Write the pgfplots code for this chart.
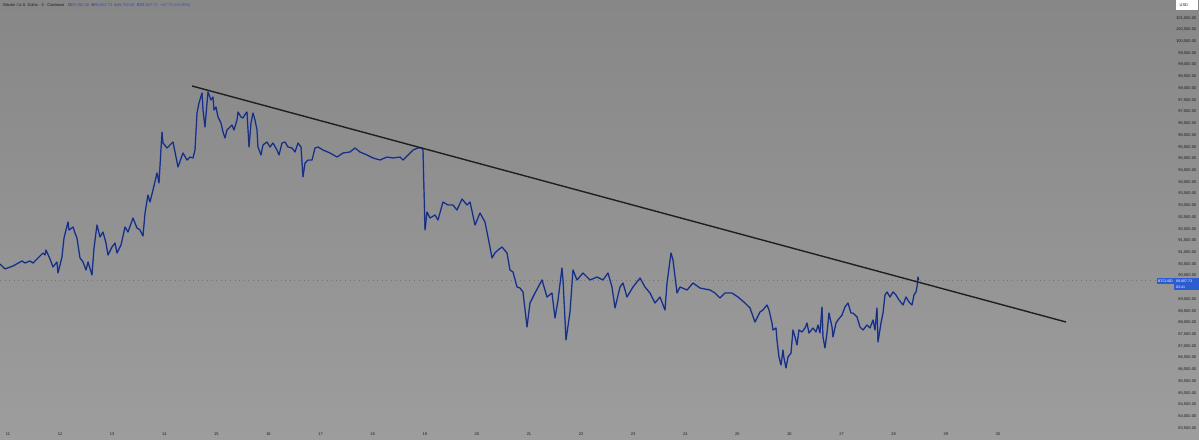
\documentclass[border=0pt]{standalone}
\usepackage{fontspec}
\setmainfont{Liberation Sans}
\usepackage{pgfplots}
\pgfplotsset{compat=1.18}
\usepackage{pgfplotstable}
\definecolor{bgtop}{RGB}{135,135,135}
\definecolor{bgbot}{RGB}{157,157,157}
\definecolor{candle}{RGB}{40,70,180}
\definecolor{tvblue}{RGB}{45,92,210}
\definecolor{lbl}{RGB}{28,28,28}
\definecolor{hdrblue}{RGB}{45,80,190}

\pgfplotstableread{
d p
10.846 90500
10.942 90290
11.096 90415
11.269 90629
11.326 90543
11.422 90629
11.480 90543
11.614 90842
11.672 90970
11.710 90885
11.729 91098
11.806 90714
11.864 90373
11.940 90586
11.960 90117
12.036 90799
12.075 91610
12.152 92293
12.171 91952
12.248 92080
12.286 91824
12.324 91610
12.382 90757
12.440 90586
12.497 90245
12.536 90586
12.612 90031
12.651 91184
12.708 92165
12.766 91653
12.823 91866
12.881 91397
12.919 90885
12.996 91226
13.054 91397
13.092 90970
13.169 91312
13.246 92080
13.303 91866
13.399 92464
13.476 92037
13.534 91952
13.591 91696
13.630 92677
13.687 93446
13.726 93147
13.783 93659
13.860 94385
13.898 93958
13.956 96134
13.975 95665
14.052 95452
14.167 95708
14.263 94641
14.359 95238
14.436 94939
14.493 95067
14.551 95025
14.589 95366
14.628 96945
14.666 97372
14.724 97799
14.743 97073
14.781 96348
14.820 97372
14.839 97842
14.896 97500
14.935 97628
14.954 97073
14.992 97201
15.031 96775
15.088 96519
15.127 96134
15.165 95878
15.203 96220
15.242 96305
15.299 96433
15.338 96220
15.395 96647
15.415 96988
15.472 96775
15.511 96732
15.568 96945
15.587 96988
15.626 95494
15.664 96519
15.702 96945
15.741 96647
15.779 96220
15.798 95494
15.856 95153
15.894 95580
15.971 95708
16.029 95494
16.086 95665
16.163 95366
16.202 95153
16.259 95665
16.317 95708
16.374 95494
16.451 95452
16.509 95281
16.566 95665
16.624 95494
16.662 94214
16.701 94811
16.758 94939
16.835 94939
16.893 95452
16.950 95494
17.046 95366
17.180 95238
17.315 95067
17.430 95238
17.564 95281
17.660 95452
17.756 95281
17.891 95153
18.006 95025
18.140 94939
18.274 95067
18.390 95025
18.524 95067
18.582 94939
18.678 95153
18.774 95366
18.869 95452
18.946 95452
18.965 95366
19.004 91952
19.042 92720
19.100 92464
19.196 92592
19.253 92379
19.349 93147
19.445 93019
19.541 93019
19.618 92805
19.714 93275
19.810 93019
19.868 93147
19.964 92165
20.060 92677
20.155 92293
20.213 91653
20.251 91226
20.290 90757
20.347 90970
20.405 91098
20.482 91226
20.578 90970
20.635 90245
20.693 90159
20.770 89519
20.827 89476
20.885 89306
20.962 87812
21.019 88836
21.115 89263
21.250 89818
21.345 89092
21.441 89263
21.499 88196
21.557 88964
21.633 90330
21.653 89818
21.710 87257
21.787 88452
21.845 90245
21.921 89818
22.036 90117
22.171 89818
22.305 89946
22.420 89818
22.516 90117
22.593 89519
22.651 88623
22.747 89519
22.804 89690
22.881 89092
22.996 89519
23.131 89903
23.226 89519
23.322 89263
23.418 88836
23.514 89092
23.610 88537
23.649 89690
23.726 90970
23.764 90671
23.841 89263
23.898 89519
24.033 89391
24.148 89690
24.282 89476
24.474 89391
24.570 89263
24.666 89050
24.762 89263
24.896 89263
25.012 89092
25.146 88836
25.242 88623
25.338 88025
25.434 88452
25.491 88537
25.568 88751
25.607 88537
25.664 87983
25.683 87684
25.741 87769
25.760 87257
25.798 86531
25.837 86190
25.875 86830
25.894 86489
25.933 86062
25.971 86531
26.029 86702
26.067 87684
26.106 87385
26.144 87044
26.182 87684
26.240 87598
26.298 87769
26.336 87983
26.374 87556
26.451 87769
26.509 87598
26.547 87897
26.585 87556
26.624 88665
26.643 87385
26.681 86916
26.720 87556
26.758 88409
26.816 87812
26.835 87385
26.893 87983
26.931 88111
27.008 88324
27.065 88665
27.123 88836
27.180 88409
27.219 88409
27.296 88239
27.353 87812
27.411 87684
27.488 87897
27.545 87769
27.603 88111
27.641 87684
27.679 88623
27.699 87172
27.756 87983
27.795 88409
27.833 89178
27.871 89306
27.929 89092
27.987 89306
28.044 89178
28.102 88964
28.179 88751
28.236 89092
28.294 88879
28.351 88751
28.390 89178
28.428 89306
28.447 89519
28.466 89946
28.480 89808
}\btc

\begin{document}
\begin{tikzpicture}
\begin{axis}[
  name=main,
  width=599.5pt, height=219.5pt, scale only axis,
  xmin=10.8464, xmax=33.8603, ymin=83031.6, ymax=101768.2,
  axis line style={draw=none},
  major tick length=0pt,
  axis background/.style={shade, top color=bgtop, bottom color=bgbot},
  clip mode=individual,
  /pgf/number format/assume math mode=true,
  xtick={11,12,13,14,15,16,17,18,19,20,21,22,23,24,25,26,27,28,29,30},
  xticklabel style={font=\fontsize{2}{2.4}\selectfont, text=lbl, anchor=south, inner sep=0pt, yshift=1.6pt},
  ytick={83500,84000,84500,85000,85500,86000,86500,87000,87500,88000,88500,89000,90000,90500,91000,91500,92000,92500,93000,93500,94000,94500,95000,95500,96000,96500,97000,97500,98000,98500,99000,99500,100000,100500,101000},
  yticklabel pos=right,
  yticklabel style={font=\fontsize{2}{2.4}\selectfont, text=lbl, anchor=east, inner sep=0pt, xshift=-1.2pt,
    /pgf/number format/fixed, /pgf/number format/fixed zerofill, /pgf/number format/precision=2, /pgf/number format/1000 sep={,}},
  scaled y ticks=false,
]
% current price dotted line
\addplot[black!55, line width=0.3pt, dotted] coordinates {(10.8464,89807.73) (33.05,89807.73)};
% price series
\addplot[candle, line width=0.7pt, line join=round] table[x=d,y=p]{\btc};
\addplot[black, line width=0.25pt, opacity=0.5, line join=round] table[x=d,y=p]{\btc};
% trend line
\addplot[black!88, line width=0.7pt] coordinates {(14.532,98098) (31.307,88025)};

% header
\node[anchor=west, inner sep=0pt, font=\fontsize{2}{2.4}\selectfont] at (rel axis cs:0.0025,0.9886)
  {\textcolor{lbl}{Bitcoin / U.S. Dollar · 5 · Coinbase}\hspace{2pt}\textcolor{lbl}{O}\textcolor{hdrblue}{89,760.00}\hspace{1.2pt}\textcolor{lbl}{H}\textcolor{hdrblue}{89,807.73}\hspace{1.2pt}\textcolor{lbl}{L}\textcolor{hdrblue}{89,760.00}\hspace{1.2pt}\textcolor{lbl}{C}\textcolor{hdrblue}{89,807.73}\hspace{1.2pt}\textcolor{hdrblue}{+47.72 (+0.05\%)}};
% USD box
\fill[white] (rel axis cs:0.9808,0.9989) rectangle (rel axis cs:0.9990,0.9772);
\node[anchor=west, inner sep=0pt, font=\fontsize{2}{2.4}\selectfont, text=lbl] at (rel axis cs:0.9835,0.9886) {USD};
% BTCUSD label
\fill[tvblue] (rel axis cs:0.9650,0.3667) rectangle (rel axis cs:0.9791,0.3530);
\fill[tvblue] (rel axis cs:0.9791,0.3667) rectangle (rel axis cs:1.0,0.3394);
\node[inner sep=0pt, font=\fontsize{1.8}{2.2}\selectfont, text=white] at (rel axis cs:0.9720,0.3599) {BTCUSD};
\node[anchor=west, inner sep=0pt, font=\fontsize{1.8}{2.2}\selectfont, text=white] at (rel axis cs:0.9805,0.3599) {89,807.73};
\node[anchor=west, inner sep=0pt, font=\fontsize{1.8}{2.2}\selectfont, text=white] at (rel axis cs:0.9805,0.3462) {03:41};
\end{axis}
\pgfresetboundingbox
\path (main.south west) rectangle (main.north east);
\end{tikzpicture}
\end{document}
